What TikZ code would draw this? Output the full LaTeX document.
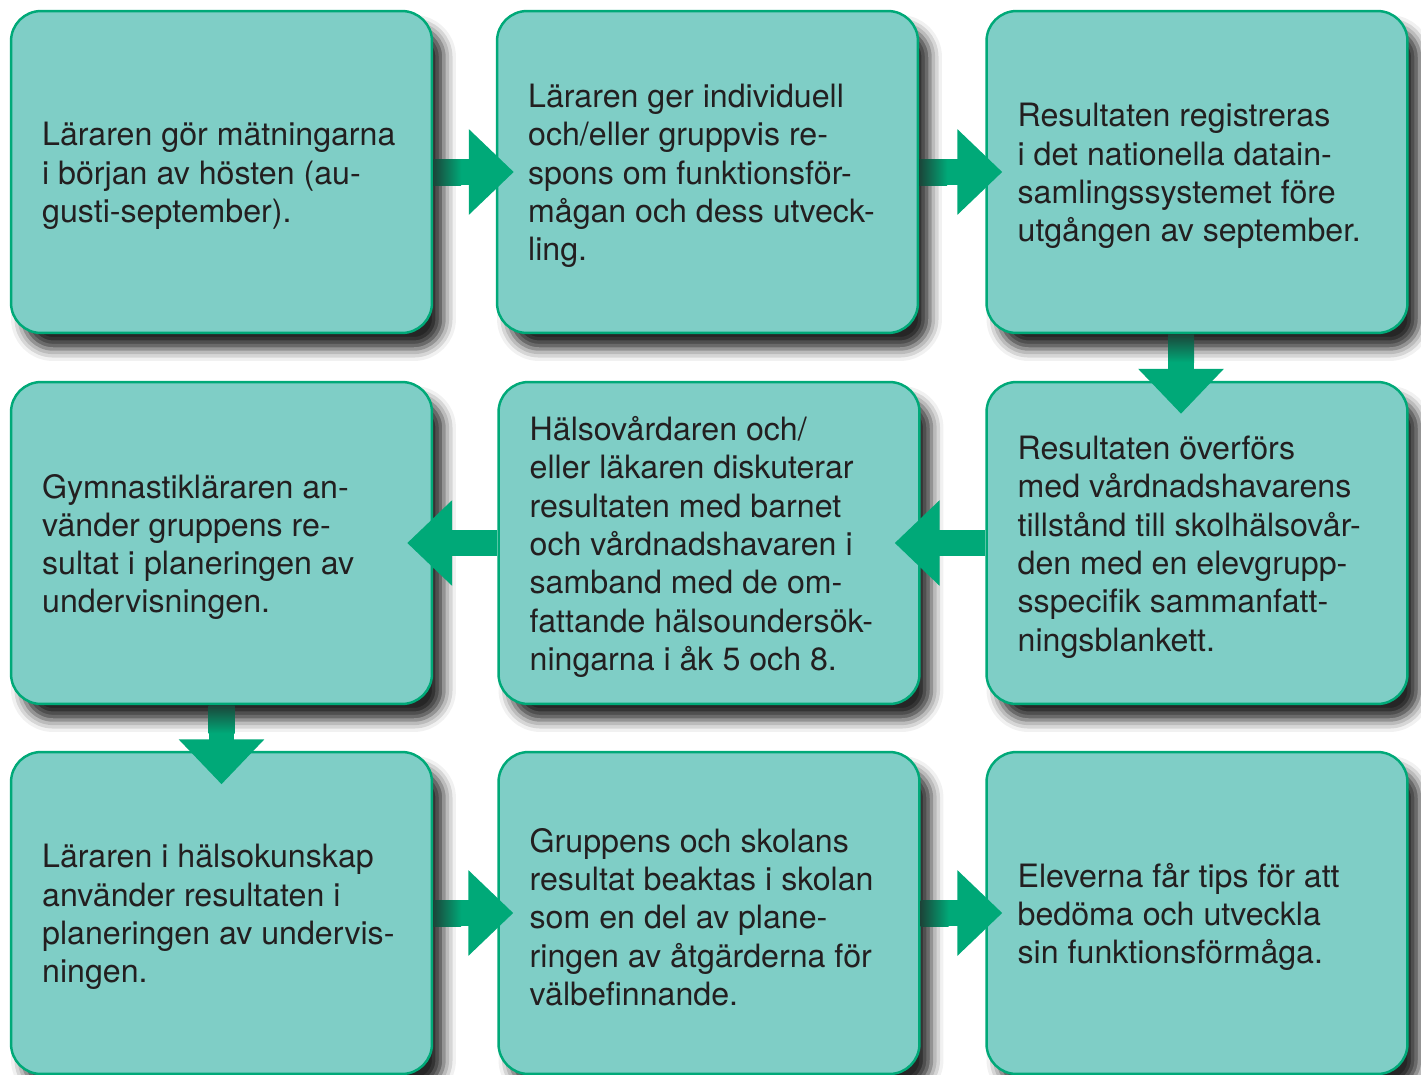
\documentclass[tikz,border=0pt]{standalone}
\usepackage{fontspec}
\setmainfont{TeX Gyre Heros}
\usepackage{xcolor}
\usepackage{tikz}
\usetikzlibrary{arrows.meta, positioning, shadows.blur}

\definecolor{boxfill}{HTML}{7FCEC6}
\definecolor{flowgreen}{HTML}{00A978}
\definecolor{shaftdark}{HTML}{1B4539}
\definecolor{textdark}{HTML}{231F20}

\begin{document}
\begin{tikzpicture}[
    x=0.02cm, y=-0.02cm,
    every node/.style={font=\fontsize{18.3}{21.8}\selectfont, text=textdark},
    stepbox/.style={draw=flowgreen, line width=1.4pt, fill=boxfill, rounded corners=0.6cm,
        minimum width=8.42cm, minimum height=6.44cm, inner sep=0pt,
        blur shadow={shadow xshift=0.24cm, shadow yshift=-0.32cm, shadow blur radius=0.24cm, shadow opacity=85}},
    steptext/.style={anchor=west, align=left, inner sep=0pt},
    flow/.style={draw=flowgreen, line width=0.52cm, -{Triangle[width=1.66cm, length=0.9cm]}},
    shaftright/.style={left color=shaftdark, right color=flowgreen},
    shaftdown/.style={top color=shaftdark, bottom color=flowgreen},
    ]

    \useasboundingbox (0,0) rectangle (1421,1075);

    % Row 1
    \node[stepbox] (b1) at (221.5, 172) {};
    \node[steptext] (t1) at ([xshift=0.64cm, yshift=-0.08cm]b1.west) {Läraren gör mätningarna\\i början av hösten (au-\\gusti-september).};

    \node[stepbox] (b2) at (707.5, 172) {};
    \node[steptext] (t2) at ([xshift=0.64cm, yshift=-0.08cm]b2.west) {Läraren ger individuell\\och/eller gruppvis re-\\spons om funktionsför-\\mågan och dess utveck-\\ling.};

    \node[stepbox] (b3) at (1197, 172) {};
    \node[steptext] (t3) at ([xshift=0.64cm, yshift=-0.08cm]b3.west) {Resultaten registreras\\i det nationella datain-\\samlingssystemet före\\utgången av september.};

    % Row 2
    \node[stepbox] (b4) at (221.5, 543) {};
    \node[steptext] (t4) at ([xshift=0.64cm, yshift=-0.08cm]b4.west) {Gymnastikläraren an-\\vänder gruppens re-\\sultat i planeringen av\\undervisningen.};

    \node[stepbox] (b5) at (709, 543) {};
    \node[steptext] (t5) at ([xshift=0.64cm, yshift=-0.08cm]b5.west) {Hälsovårdaren och/\\eller läkaren diskuterar\\resultaten med barnet\\och vårdnadshavaren i\\samband med de om-\\fattande hälsoundersök-\\ningarna i åk 5 och 8.};

    \node[stepbox] (b6) at (1197, 543) {};
    \node[steptext] (t6) at ([xshift=0.64cm, yshift=-0.08cm]b6.west) {Resultaten överförs\\med vårdnadshavarens\\tillstånd till skolhälsovår-\\den med en elevgrupp-\\sspecifik sammanfatt-\\ningsblankett.};

    % Row 3
    \node[stepbox] (b7) at (221.5, 913) {};
    \node[steptext] (t7) at ([xshift=0.64cm, yshift=-0.08cm]b7.west) {Läraren i hälsokunskap\\använder resultaten i\\planeringen av undervis-\\ningen.};

    \node[stepbox] (b8) at (709, 913) {};
    \node[steptext] (t8) at ([xshift=0.64cm, yshift=-0.08cm]b8.west) {Gruppens och skolans\\resultat beaktas i skolan\\som en del av plane-\\ringen av åtgärderna för\\välbefinnande.};

    \node[stepbox] (b9) at (1197, 913) {};
    \node[steptext] (t9) at ([xshift=0.64cm, yshift=-0.08cm]b9.west) {Eleverna får tips för att\\bedöma och utveckla\\sin funktionsförmåga.};

    % Arrows
    \draw[flow] (b1.east) -- ([xshift=0.36cm]b2.west);
    \shade[shaftright] ([yshift=0.26cm]b1.east) rectangle ++(28,26);
    \draw[flow] (b2.east) -- ([xshift=0.34cm]b3.west);
    \shade[shaftright] ([yshift=0.26cm]b2.east) rectangle ++(28,26);

    \draw[flow] ([xshift=-0.32cm]b3.south) -- ([xshift=-0.32cm, yshift=-0.66cm]b6.north);
    \shade[shaftdown] ([xshift=-0.58cm]b3.south) rectangle ++(26,28);

    \draw[flow] (b6.west) -- ([xshift=-0.52cm]b5.east);
    \draw[flow] (b5.west) -- ([xshift=-0.52cm]b4.east);

    \draw[flow] (b4.south) -- ([yshift=-0.67cm]b7.north);
    \shade[shaftdown] ([xshift=-0.26cm]b4.south) rectangle ++(26,28);

    \draw[flow] (b7.east) -- ([xshift=0.32cm]b8.west);
    \shade[shaftright] ([yshift=0.26cm]b7.east) rectangle ++(28,26);
    \draw[flow] (b8.east) -- ([xshift=0.34cm]b9.west);
    \shade[shaftright] ([yshift=0.26cm]b8.east) rectangle ++(28,26);

\end{tikzpicture}
\end{document}
